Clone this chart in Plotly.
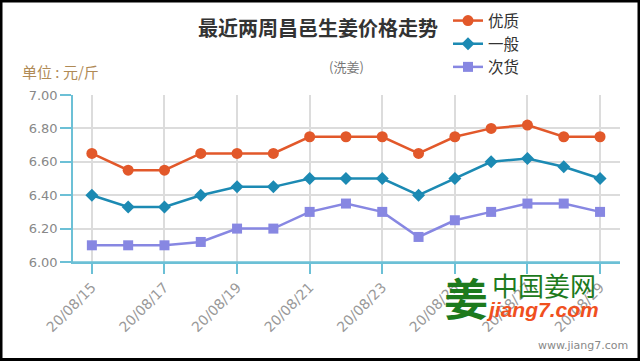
import plotly.graph_objects as go

dates = ["20/08/15", "20/08/16", "20/08/17", "20/08/18", "20/08/19", "20/08/20", "20/08/21",
         "20/08/22", "20/08/23", "20/08/24", "20/08/25", "20/08/26", "20/08/27", "20/08/28", "20/08/29"]
youzhi = [6.65, 6.55, 6.55, 6.65, 6.65, 6.65, 6.75, 6.75, 6.75, 6.65, 6.75, 6.80, 6.82, 6.75, 6.75]
yiban = [6.40, 6.33, 6.33, 6.40, 6.45, 6.45, 6.50, 6.50, 6.50, 6.40, 6.50, 6.60, 6.62, 6.57, 6.50]
cihuo = [6.10, 6.10, 6.10, 6.12, 6.20, 6.20, 6.30, 6.35, 6.30, 6.15, 6.25, 6.30, 6.35, 6.35, 6.30]
y_ticks = [6.0, 6.2, 6.4, 6.6, 6.8, 7.0]

idx = list(range(len(dates)))
tick_idx = idx[::2]
tick_text = dates[::2]

CJK = "Noto Sans CJK SC"
AXIS = "#6cc0d6"

fig = go.Figure()
fig.add_trace(go.Scatter(x=idx, y=youzhi, name="优质", mode="lines+markers",
                         line=dict(color="#e2582a", width=2.5),
                         marker=dict(symbol="circle", size=11, color="#e2582a")))
fig.add_trace(go.Scatter(x=idx, y=yiban, name="一般", mode="lines+markers",
                         line=dict(color="#1c8ab3", width=2.5),
                         marker=dict(symbol="diamond", size=10, color="#1c8ab3")))
fig.add_trace(go.Scatter(x=idx, y=cihuo, name="次货", mode="lines+markers",
                         line=dict(color="#8787e2", width=2.5),
                         marker=dict(symbol="square", size=10, color="#8787e2")))

L, R, T, B = 73, 20, 95, 99
W, H = 640, 361
pw, ph = W - L - R, H - T - B

def px(x):
    return (x - L) / pw

def py(y):
    return (H - B - y) / ph

fig.update_layout(
    width=W, height=H,
    margin=dict(l=L, r=R, t=T, b=B, autoexpand=False),
    paper_bgcolor="white", plot_bgcolor="white",
    font=dict(family=CJK, color="#888"),
    title=dict(text="<b>最近两周昌邑生姜价格走势</b>", x=318 / W, xref="container", xanchor="center",
               y=1 - 29 / H, yref="container", yanchor="middle",
               font=dict(family=CJK, size=20, color="#333")),
    legend=dict(x=px(448), y=py(4), xanchor="left", yanchor="top",
                font=dict(family=CJK, size=15.5, color="#333"),
                bgcolor="rgba(0,0,0,0)", tracegroupgap=0, itemwidth=30),
    showlegend=True,
    xaxis=dict(range=[-0.52, 14.55], tickmode="array", tickvals=tick_idx, ticktext=tick_text,
               tickangle=-45, ticks="outside", ticklen=10, tickcolor=AXIS, tickwidth=1.5,
               showline=True, linecolor=AXIS, linewidth=1.5, automargin=False,
               showgrid=True, gridcolor="#dcdcdc", gridwidth=1.5, zeroline=False,
               tickfont=dict(family="DejaVu Sans", size=14, color="#999")),
    yaxis=dict(range=[6.0, 7.0], tickmode="array", tickvals=y_ticks,
               ticktext=[f"{v:.2f}" for v in y_ticks], automargin=False,
               ticks="outside", ticklen=11, tickcolor=AXIS, tickwidth=1.5,
               showline=True, linecolor=AXIS, linewidth=1.5,
               showgrid=True, gridcolor="#dcdcdc", gridwidth=1.5, zeroline=False,
               tickfont=dict(family="DejaVu Sans", size=13, color="#888")),
    shapes=[
        dict(type="line", xref="paper", yref="paper", x0=px(62), x1=1, y0=0, y1=0,
             line=dict(color=AXIS, width=1.5)),
        dict(type="rect", xref="paper", yref="paper", x0=px(1), x1=px(639), y0=py(359.5), y1=py(1),
             line=dict(color="black", width=3)),
    ],
    annotations=[
        dict(text="(洗姜)", x=0.5, xref="paper", y=py(66), yref="paper", xanchor="center",
             yanchor="middle", showarrow=False, font=dict(family=CJK, size=13, color="#777")),
        dict(text="单位 : 元/斤", x=px(20), xref="paper", y=py(72), yref="paper", xanchor="left",
             yanchor="middle", showarrow=False, font=dict(family=CJK, size=15, color="#b08a55")),
        dict(text="<b>姜</b>", x=px(466), xref="paper", y=py(297), yref="paper", xanchor="center",
             yanchor="middle", showarrow=False, font=dict(family=CJK, size=44, color="#1d7a1d")),
        dict(text="中国姜网", x=px(490), xref="paper", y=py(284), yref="paper", xanchor="left",
             yanchor="middle", showarrow=False, font=dict(family=CJK, size=26, color="#1d7a1d")),
        dict(text="<b><i>jiang7.com</i></b>", x=px(484), xref="paper", y=py(309), yref="paper",
             xanchor="left", yanchor="middle", showarrow=False,
             font=dict(family="Liberation Sans", size=21, color="#f0501e")),
        dict(text="www.jiang7.com", x=px(630), xref="paper", y=py(345), yref="paper", xanchor="right",
             yanchor="middle", showarrow=False, font=dict(family="DejaVu Sans", size=11, color="#888")),
    ],
)

fig.write_html("out.html", config={"displayModeBar": False},
               post_script="document.body.style.margin='0';")
